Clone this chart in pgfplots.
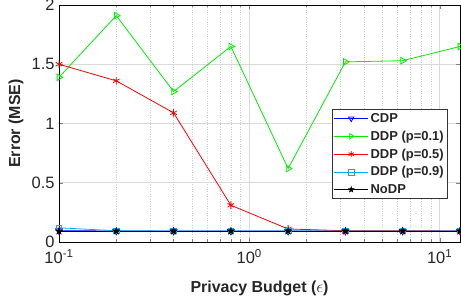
\documentclass[border=0pt]{standalone}
\usepackage{pgfplots}
\pgfplotsset{compat=1.18}
\usepackage{fontspec}
\setmainfont{Liberation Sans}
\definecolor{mgreen}{RGB}{0,235,0}
\definecolor{tcol}{RGB}{38,38,38}
\pgfdeclareplotmark{pstar}{%
  \pgfpathmoveto{\pgfpointpolar{90}{\pgfplotmarksize}}%
  \pgfpathlineto{\pgfpointpolar{126}{0.42\pgfplotmarksize}}%
  \pgfpathlineto{\pgfpointpolar{162}{\pgfplotmarksize}}%
  \pgfpathlineto{\pgfpointpolar{198}{0.42\pgfplotmarksize}}%
  \pgfpathlineto{\pgfpointpolar{234}{\pgfplotmarksize}}%
  \pgfpathlineto{\pgfpointpolar{270}{0.42\pgfplotmarksize}}%
  \pgfpathlineto{\pgfpointpolar{306}{\pgfplotmarksize}}%
  \pgfpathlineto{\pgfpointpolar{342}{0.42\pgfplotmarksize}}%
  \pgfpathlineto{\pgfpointpolar{18}{\pgfplotmarksize}}%
  \pgfpathlineto{\pgfpointpolar{54}{0.42\pgfplotmarksize}}%
  \pgfpathclose
  \pgfusepathqfillstroke}
\begin{document}
\begin{tikzpicture}[x=1bp,y=1bp]
\begin{axis}[
  at={(59bp,63bp)}, anchor=south west,
  scale only axis, width=401bp, height=237bp,
  xmode=log, xmin=0.1, xmax=12.8, ymin=0, ymax=2,
  xtick={0.1,1,10}, xticklabels={10\textsuperscript{-1},10\textsuperscript{0},10\textsuperscript{1}},
  ytick={0,0.5,1,1.5,2},
  /pgf/number format/assume math mode=true,
  yticklabel style={/pgf/number format/fixed},
  tick label style={font=\fontsize{16.5}{19}\selectfont, color=tcol},
  xticklabel style={yshift=-4bp},
  yticklabel style={xshift=-1bp},
  xlabel={\textbf{Privacy Budget ($\epsilon$)}},
  ylabel={\textbf{Error (MSE)}},
  label style={font=\fontsize{16}{19}\selectfont, color=tcol},
  xlabel style={at={(axis description cs:0.5,0)}, anchor=center, yshift=-46bp},
  ylabel style={at={(axis description cs:0,0.5)}, anchor=center, yshift=43bp},
  grid=both,
  major grid style={black!15, line width=0.7pt},
  minor grid style={black!20, dotted, line width=0.5pt},
  tick align=inside, major tick length=4bp, minor tick length=2.5bp,
  axis line style={black, line width=0.6pt},
  legend style={at={(0.97,0.561)}, anchor=north east, font=\fontsize{13}{15}\selectfont\bfseries, text=tcol, draw=black!80, line width=0.6pt, row sep=3pt, inner sep=2pt, cells={anchor=west}},
  legend cell align=left,
  legend image code/.code={\draw[mark repeat=2,mark phase=2,#1,mark size=3pt] plot coordinates {(0bp,0bp) (17bp,0bp) (34bp,0bp)};},
  every axis plot/.append style={line width=0.8pt, mark size=3.8pt},
]
\addplot[blue, mark=triangle, mark options={rotate=180, solid}] coordinates {(0.1,0.095)(0.2,0.093)(0.4,0.092)(0.8,0.092)(1.6,0.092)(3.2,0.092)(6.4,0.092)(12.8,0.092)};
\addlegendentry{CDP}
\addplot[mgreen, mark=triangle, mark options={rotate=-90}] coordinates {(0.1,1.39)(0.2,1.91)(0.4,1.27)(0.8,1.65)(1.6,0.62)(3.2,1.52)(6.4,1.53)(12.8,1.65)};
\addlegendentry{DDP (p=0.1)}
\addplot[red, mark=asterisk] coordinates {(0.1,1.50)(0.2,1.36)(0.4,1.09)(0.8,0.31)(1.6,0.11)(3.2,0.095)(6.4,0.095)(12.8,0.093)};
\addlegendentry{DDP (p=0.5)}
\addplot[cyan, mark=square, mark size=2.8pt] coordinates {(0.1,0.12)(0.2,0.095)(0.4,0.093)(0.8,0.092)(1.6,0.092)(3.2,0.092)(6.4,0.092)(12.8,0.092)};
\addlegendentry{DDP (p=0.9)}
\addplot[black, mark=pstar, mark options={line width=0.4pt}] coordinates {(0.1,0.092)(0.2,0.092)(0.4,0.092)(0.8,0.092)(1.6,0.092)(3.2,0.092)(6.4,0.092)(12.8,0.092)};
\addlegendentry{NoDP}
\end{axis}
\pgfresetboundingbox
\path (0,0) rectangle (461bp,305bp);
\end{tikzpicture}
\end{document}
